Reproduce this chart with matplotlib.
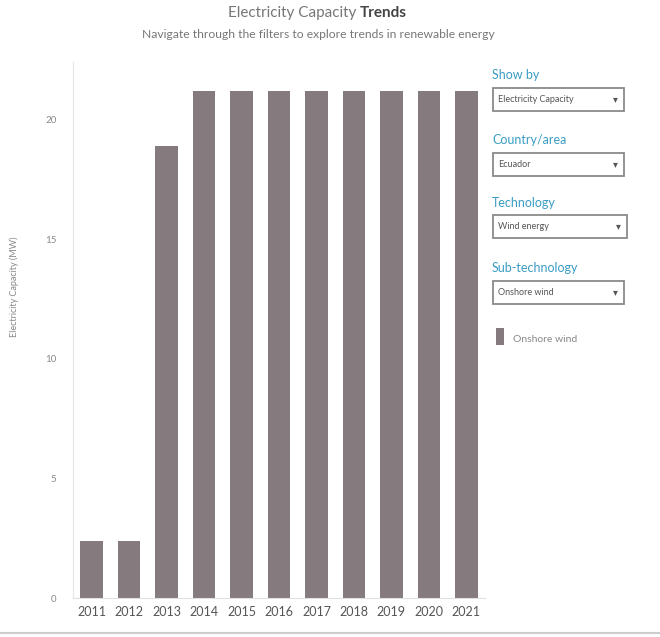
import matplotlib
matplotlib.use("Agg")
import matplotlib.pyplot as plt
from matplotlib.patches import Rectangle
from matplotlib.lines import Line2D

years = ["2011", "2012", "2013", "2014", "2015", "2016", "2017", "2018", "2019", "2020", "2021"]
capacity = [2.4, 2.4, 18.9, 21.2, 21.2, 21.2, 21.2, 21.2, 21.2, 21.2, 21.2]
yticks = [0, 5, 10, 15, 20]

filter_labels = ["Show by", "Country/area", "Technology", "Sub-technology"]
filter_values = ["Electricity Capacity", "Ecuador", "Wind energy", "Onshore wind"]
legend_label = "Onshore wind"

BAR = "#857a7d"
BLUE = "#3a9cc4"
FONT = ["Lato", "DejaVu Sans"]

W, H = 660, 637
fig = plt.figure(figsize=(W / 100, H / 100), dpi=100)
fig.patch.set_facecolor("white")

def fx(px):
    return px / W

def fy(py):
    return 1 - py / H

ax = fig.add_axes([fx(73), fy(598), fx(485) - fx(73), fy(62) - fy(598)])
x = list(range(len(years)))
ax.bar(x, capacity, width=0.6, color=BAR)
ax.set_xlim(-0.5, len(years) - 0.5)
ax.set_ylim(0, 22.4)
ax.set_xticks(x)
ax.set_xticklabels(years, fontsize=9, color="#555555", family=FONT)
ax.set_yticks(yticks)
ax.set_yticklabels([str(v) for v in yticks], fontsize=7, color="#888888", family=FONT)
ax.tick_params(axis="x", length=0, pad=6)
ax.tick_params(axis="y", length=0, pad=12)
for s in ["top", "right"]:
    ax.spines[s].set_visible(False)
ax.spines["left"].set_color("#e6e6e6")
ax.spines["bottom"].set_color("#e0e0e0")
ax.set_facecolor("white")

fig.text(fx(14), fy(287), "Electricity Capacity (MW)", rotation=90, ha="center", va="center",
         fontsize=6.5, color="#888888", family=FONT)

# Title
fig.text(fx(360), fy(13), "Electricity Capacity ", ha="right", va="center", fontsize=11,
         color="#777777", family=FONT)
fig.text(fx(360), fy(13), "Trends", ha="left", va="center", fontsize=11, color="#444444",
         weight="bold", family=FONT)
fig.text(fx(318), fy(34), "Navigate through the filters to explore trends in renewable energy",
         ha="center", va="center", fontsize=8.7, color="#777777", family=FONT)

# Filters
label_y = [75, 140, 203, 268]
box_top = [88, 153, 215, 281]
box_right = [624, 624, 627, 624]
for lab, val, ly, bt, br in zip(filter_labels, filter_values, label_y, box_top, box_right):
    fig.text(fx(492), fy(ly), lab, ha="left", va="center", fontsize=9, color=BLUE, family=FONT)
    fig.patches.append(Rectangle((fx(493), fy(bt + 23)), fx(br) - fx(493), fy(bt) - fy(bt + 23),
                                 transform=fig.transFigure, facecolor="white",
                                 edgecolor="#8a8a8a", linewidth=1.3))
    fig.text(fx(498), fy(bt + 11.5), val, ha="left", va="center", fontsize=6.5,
             color="#555555", family=FONT)
    fig.text(fx(br - 9), fy(bt + 11.5), "▾", ha="center", va="center", fontsize=7,
             color="#555555", family=FONT)

# Legend
fig.patches.append(Rectangle((fx(496), fy(345)), fx(8), fy(328) - fy(345),
                             transform=fig.transFigure, facecolor=BAR, edgecolor="none"))
fig.text(fx(513), fy(339), legend_label, ha="left", va="center", fontsize=7.5,
         color="#888888", family=FONT)

# bottom border line
fig.lines.append(Line2D([0, 1], [fy(633), fy(633)], transform=fig.transFigure,
                        color="#cccccc", linewidth=1.5))

fig.savefig("out.png", dpi=100, facecolor="white")
